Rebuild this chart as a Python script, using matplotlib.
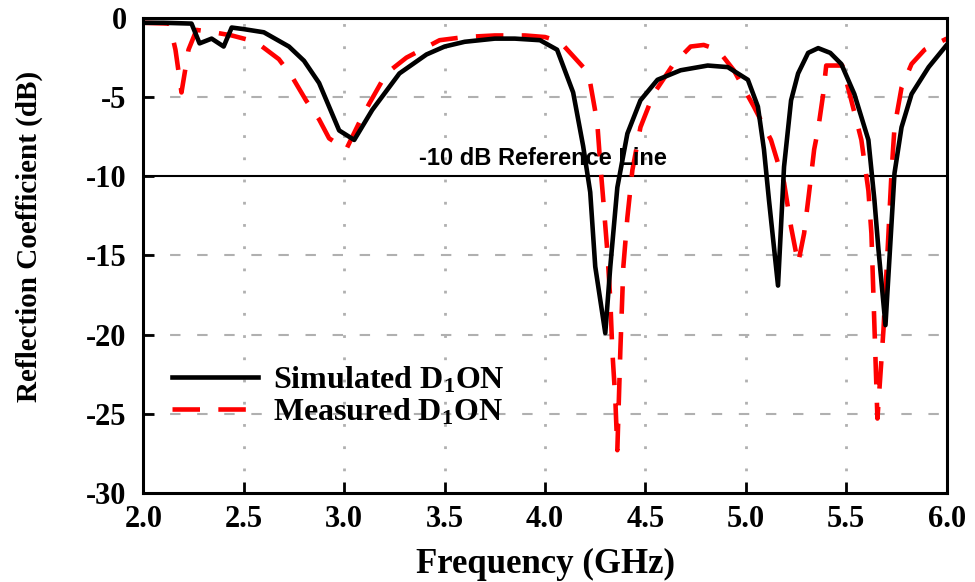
import matplotlib
matplotlib.use("Agg")
import matplotlib.pyplot as plt

plt.rcParams['font.family'] = ['Liberation Serif', 'DejaVu Serif']
plt.rcParams['font.weight'] = 'bold'
plt.rcParams['mathtext.fontset'] = 'custom'
plt.rcParams['mathtext.rm'] = 'Liberation Serif:bold'
plt.rcParams['mathtext.it'] = 'Liberation Serif:bold'
plt.rcParams['mathtext.bf'] = 'Liberation Serif:bold'

# simulated S11 (black)
sim_f = [2.00, 2.10, 2.24, 2.28, 2.34, 2.40, 2.44, 2.50, 2.60, 2.725, 2.80, 2.875,
         2.975, 3.05, 3.14, 3.275, 3.41, 3.50, 3.60, 3.75, 3.85, 3.975, 4.06, 4.14,
         4.19, 4.225, 4.25, 4.30, 4.325, 4.36, 4.41, 4.475, 4.56, 4.675, 4.81, 4.91,
         5.01, 5.06, 5.09, 5.115, 5.16, 5.19, 5.225, 5.26, 5.31, 5.36, 5.42, 5.475,
         5.54, 5.61, 5.64, 5.66, 5.695, 5.74, 5.775, 5.825, 5.91, 6.00]
sim_db = [-0.3, -0.3, -0.35, -1.6, -1.3, -1.8, -0.6, -0.7, -0.9, -1.8, -2.7, -4.1,
          -7.1, -7.7, -5.8, -3.5, -2.3, -1.8, -1.5, -1.3, -1.3, -1.4, -2.0, -4.7,
          -8.1, -11.0, -15.7, -19.9, -15.7, -10.7, -7.3, -5.2, -3.9, -3.3, -3.0, -3.1,
          -3.9, -5.6, -8.3, -11.5, -16.9, -9.4, -5.2, -3.5, -2.2, -1.9, -2.2, -2.9,
          -4.8, -7.7, -11.5, -14.6, -19.4, -9.8, -6.9, -4.8, -3.1, -1.7]

# measured S11 (red dashed)
meas_f = [2.00, 2.13, 2.16, 2.19, 2.225, 2.265, 2.35, 2.44, 2.56, 2.675, 2.74, 2.81,
          2.875, 2.925, 3.01, 3.075, 3.125, 3.21, 3.31, 3.475, 3.60, 3.75, 3.90, 4.00,
          4.075, 4.19, 4.225, 4.26, 4.275, 4.29, 4.31, 4.325, 4.335, 4.35, 4.36, 4.375,
          4.39, 4.41, 4.435, 4.475, 4.54, 4.64, 4.725, 4.79, 4.86, 4.94, 5.04, 5.125,
          5.175, 5.19, 5.225, 5.26, 5.29, 5.315, 5.34, 5.36, 5.385, 5.40, 5.48, 5.525,
          5.575, 5.61, 5.625, 5.655, 5.685, 5.71, 5.725, 5.74, 5.775, 5.825, 5.89, 6.00]
meas_db = [-0.3, -0.35, -2.0, -4.7, -2.0, -0.75, -0.9, -1.1, -1.5, -2.6, -3.7, -5.2,
           -6.4, -7.6, -8.3, -6.6, -5.4, -3.5, -2.5, -1.4, -1.2, -1.1, -1.1, -1.2,
           -1.5, -3.1, -4.1, -6.6, -9.2, -11.5, -14.7, -17.8, -21.0, -24.1, -27.3, -21.0,
           -15.7, -12.6, -9.6, -6.9, -4.8, -2.9, -1.8, -1.7, -2.0, -3.3, -5.6, -7.7,
           -9.8, -10.4, -13.2, -15.5, -13.6, -11.0, -8.3, -7.0, -4.8, -3.0, -3.0, -5.2,
           -7.7, -10.9, -13.6, -25.3, -19.7, -13.6, -9.8, -6.9, -4.4, -2.9, -2.0, -1.3]

xticks = [2.0, 2.5, 3.0, 3.5, 4.0, 4.5, 5.0, 5.5, 6.0]
yticks = [0, -5, -10, -15, -20, -25, -30]

fig = plt.figure(figsize=(9.75, 5.82), dpi=100)
ax = fig.add_axes([0.147, 0.153, 0.824, 0.816])

# grid: dotted verticals, dashed horizontals
for x in xticks[1:-1]:
    ax.axvline(x, color='#b0b0b0', lw=2, ls=(0, (1, 7)), zorder=0)
for y in yticks[1:-1]:
    if y != -10:
        ax.axhline(y, color='#b0b0b0', lw=1.5, ls=(0, (5, 8)), zorder=0)

ax.axhline(-10, color='black', lw=1.5, zorder=1)
ax.text(3.99, -9.6, '-10 dB Reference Line', ha='center', va='bottom',
        fontsize=17, fontweight='bold', family='Liberation Sans')

ax.plot(sim_f, sim_db, color='black', lw=3.3, label='Simulated D$_1$ON', zorder=3)
ax.plot(meas_f, meas_db, color='#ff0000', lw=3.3, ls=(0, (6, 4)),
        label='Measured D$_1$ON', zorder=2)

ax.set_xlim(2.0, 6.0)
ax.set_ylim(-30, 0)
ax.set_xticks(xticks)
ax.set_yticks(yticks)
ax.set_xticklabels(['%.1f' % t for t in xticks])
ax.set_yticklabels([str(t) for t in yticks])
ax.tick_params(direction='in', length=8, width=2, labelsize=22)
ax.tick_params(axis='x', pad=9)
ax.tick_params(axis='y', pad=12)
for s in ax.spines.values():
    s.set_linewidth(2.2)

ax.set_xlabel('Frequency (GHz)', fontsize=25, fontweight='bold')
ax.set_ylabel('Reflection Coefficient (dB)', fontsize=21, fontweight='bold')
ax.xaxis.set_label_coords(0.5, -0.115)
ax.yaxis.set_label_coords(-0.125, 0.54)

leg = ax.legend(loc='upper left', bbox_to_anchor=(0.0, 0.33), frameon=False,
                fontsize=23, handlelength=2.7, handletextpad=0.45, labelspacing=0.05)

fig.savefig('out.png', dpi=100)
